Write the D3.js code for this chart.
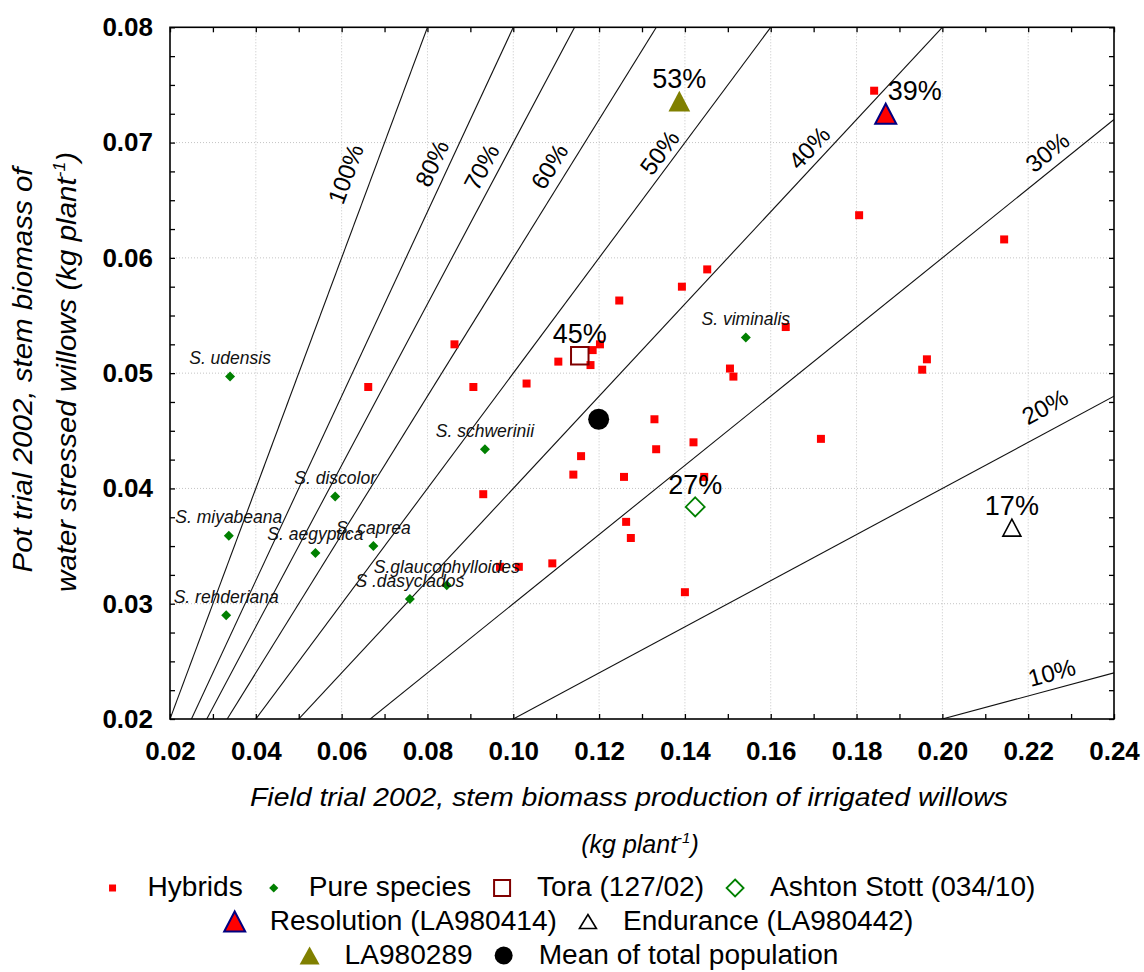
<!DOCTYPE html>
<html>
<head>
<meta charset="utf-8">
<script src="https://cdn.jsdelivr.net/npm/d3@7"></script>
<style>
  body { margin: 0; background: #fff; }
  svg { display: block; font-family: "Liberation Sans", Arial, sans-serif; }
</style>
</head>
<body>
<svg id="chart" width="1144" height="972"></svg>
<script>
// ---- data (kg plant-1) ----
const xDomain = [0.02, 0.24];
const yDomain = [0.02, 0.08];
const xTickLabels = ["0.02","0.04","0.06","0.08","0.10","0.12","0.14","0.16","0.18","0.20","0.22","0.24"];
const yTickLabels = ["0.02","0.03","0.04","0.05","0.06","0.07","0.08"];

// Hybrid clones: field trial (irrigated) vs pot trial (water stressed)
const hybridX = [0.1841,0.1806,0.2144,0.1452,0.1393,0.1247,0.1635,0.0863,0.1202,0.1185,0.1180,0.1105,
                 0.0662,0.0907,0.1031,0.1505,0.1513,0.1964,0.1953,0.1329,0.1420,0.1333,0.1717,0.1158,
                 0.1140,0.1258,0.1445,0.0930,0.1263,0.1274,0.0969,0.1013,0.1091,0.1400];
const hybridY = [0.0745,0.0637,0.0616,0.0590,0.0575,0.0563,0.0540,0.0525,0.0525,0.0520,0.0507,0.0510,
                 0.0488,0.0488,0.0491,0.0504,0.0497,0.0512,0.0503,0.0460,0.0440,0.0434,0.0443,0.0428,
                 0.0412,0.0410,0.0410,0.0395,0.0371,0.0357,0.0332,0.0332,0.0335,0.0310];

// Pure Salix species
const speciesNames = ["S. udensis","S. discolor","S. miyabeana","S. aegyptica","S. caprea","S. schwerinii",
                      "S.glaucophylloides","S .dasyclados","S. rehderiana","S. viminalis"];
const speciesX = [0.0340,0.0585,0.0337,0.0539,0.0674,0.0934,0.0845,0.0759,0.0331,0.1542];
const speciesY = [0.0497,0.0393,0.0359,0.0344,0.0350,0.0434,0.0316,0.0304,0.0290,0.0531];

// Named clones and the population mean
const cloneNames = ["Tora (127/02)","Ashton Stott (034/10)","Resolution (LA980414)","Endurance (LA980442)","LA980289","Mean of total population"];
const cloneX = [0.1155,0.1424,0.1868,0.2162,0.1387,0.1199];
const cloneY = [0.0515,0.0384,0.0725,0.0366,0.0736,0.0460];

// Reference lines: pot biomass as a share of field biomass
const ratioValues = [1.0,0.8,0.7,0.6,0.5,0.4,0.3,0.2,0.1];
const ratioLabelAtX = [0.0665,0.0845,0.0960,0.1119,0.1368,0.1716,0.2269,0.2265,0.2265];

// Legend entries, in reading order
const legendNames = ["Hybrids","Pure species","Tora (127/02)","Ashton Stott (034/10)",
                     "Resolution (LA980414)","Endurance (LA980442)","LA980289","Mean of total population"];
const legendRows = [[0,1,2,3],[4,5],[6,7]];

// ---- layout ----
const plot = { left: 170, right: 1114, top: 27.3, bottom: 719 };
const ratioLabelGap = [17, 8, 8, 9, 6, 7, 8, 15, 8];   // px between line and label baseline
const svg = d3.select("#chart");
const x = d3.scaleLinear().domain(xDomain).range([plot.left, plot.right]);
const y = d3.scaleLinear().domain(yDomain).range([plot.bottom, plot.top]);
const pct = d3.format(".0%");

// marker shapes (centred on the bounding box)
const squarePath = s => `M${-s/2},${-s/2}h${s}v${s}h${-s}Z`;
const diamondPath = r => `M0,${-r}L${r},0L0,${r}L${-r},0Z`;
const trianglePath = (w, h) => `M0,${-h/2}L${w/2},${h/2}L${-w/2},${h/2}Z`;
const circlePath = r => d3.symbol(d3.symbolCircle, Math.PI * r * r)();

const markerStyle = {
  "Hybrids":                 { plot: squarePath(8),          legend: squarePath(7),         fill: "#ff0000", stroke: "none",    sw: 0 },
  "Pure species":            { plot: diamondPath(5),         legend: diamondPath(4.6),      fill: "#008000", stroke: "none",    sw: 0 },
  "Tora (127/02)":           { plot: squarePath(17.5),       legend: squarePath(16),        fill: "none",    stroke: "#800000", sw: 2 },
  "Ashton Stott (034/10)":   { plot: diamondPath(9.5),       legend: diamondPath(8.5),      fill: "none",    stroke: "#008000", sw: 1.8 },
  "Resolution (LA980414)":   { plot: trianglePath(21, 20),   legend: trianglePath(21, 20),  fill: "#ff0000", stroke: "#000080", sw: 2 },
  "Endurance (LA980442)":    { plot: trianglePath(18, 17),   legend: trianglePath(17, 14),  fill: "none",    stroke: "#000000", sw: 1.6 },
  "LA980289":                { plot: trianglePath(21.7, 20.7), legend: trianglePath(20, 18), fill: "#808000", stroke: "none",    sw: 0 },
  "Mean of total population":{ plot: circlePath(10.5),       legend: circlePath(9),         fill: "#000000", stroke: "none",    sw: 0 }
};

// ---- grid ----
const xMajor = xTickLabels.map(Number);
const yMajor = yTickLabels.map(Number);
const grid = svg.append("g").attr("stroke", "#c4c4c4").attr("stroke-width", 1).attr("stroke-dasharray", "1,2");
grid.selectAll("line.vx").data(xMajor.slice(1, -1)).join("line")
  .attr("x1", d => x(d)).attr("x2", d => x(d)).attr("y1", plot.top).attr("y2", plot.bottom);
grid.selectAll("line.hy").data(yMajor.slice(1, -1)).join("line")
  .attr("y1", d => y(d)).attr("y2", d => y(d)).attr("x1", plot.left).attr("x2", plot.right);

// ---- ratio lines ----
svg.append("clipPath").attr("id", "plotClip").append("rect")
  .attr("x", plot.left).attr("y", plot.top)
  .attr("width", plot.right - plot.left).attr("height", plot.bottom - plot.top);
const ratioG = svg.append("g").attr("clip-path", "url(#plotClip)");
ratioG.selectAll("line").data(ratioValues).join("line")
  .attr("x1", x(0)).attr("y1", y(0))
  .attr("x2", x(xDomain[1])).attr("y2", d => y(d * xDomain[1]))
  .attr("stroke", "#111").attr("stroke-width", 1.1);

// labels sit just above-left of each line, turned to follow it
const ratioLabelG = svg.append("g").attr("font-size", 24).attr("fill", "#000");
ratioValues.forEach((p, i) => {
  const xv = ratioLabelAtX[i];
  const px = x(xv), py = y(p * xv);
  const ang = Math.atan2(y(p * 0.2) - y(0), x(0.2) - x(0)) * 180 / Math.PI;
  ratioLabelG.append("text")
    .attr("transform", `translate(${px},${py}) rotate(${ang})`)
    .attr("y", -ratioLabelGap[i])
    .attr("text-anchor", "middle")
    .text(pct(p));
});

// ---- hybrids ----
const hs = markerStyle["Hybrids"];
svg.append("g").selectAll("path").data(hybridX).join("path")
  .attr("d", hs.plot).attr("fill", hs.fill)
  .attr("transform", (d, i) => `translate(${x(d)},${y(hybridY[i])})`);

// ---- pure species ----
const ss = markerStyle["Pure species"];
const spG = svg.append("g");
spG.selectAll("path").data(speciesX).join("path")
  .attr("d", ss.plot).attr("fill", ss.fill)
  .attr("transform", (d, i) => `translate(${x(d)},${y(speciesY[i])})`);
spG.selectAll("text").data(speciesNames).join("text")
  .attr("x", (d, i) => x(speciesX[i]))
  .attr("y", (d, i) => y(speciesY[i]) - 12.5)
  .attr("text-anchor", "middle")
  .attr("font-size", 17.5).attr("font-style", "italic").attr("fill", "#111")
  .text(d => d);

// ---- named clones with their pot/field ratio ----
const cloneG = svg.append("g");
cloneNames.forEach((name, i) => {
  const st = markerStyle[name];
  const cx = x(cloneX[i]), cy = y(cloneY[i]);
  cloneG.append("path").attr("d", st.plot)
    .attr("fill", st.fill).attr("stroke", st.stroke).attr("stroke-width", st.sw)
    .attr("transform", `translate(${cx},${cy})`);
  if (name === "Mean of total population") return;
  const side = name.startsWith("Resolution");
  cloneG.append("text")
    .attr("x", side ? cx + 2 : cx)
    .attr("y", side ? cy - 14 : cy - 13)
    .attr("text-anchor", side ? "start" : "middle")
    .attr("font-size", 27).attr("fill", "#000")
    .text(pct(Math.round(cloneY[i] / cloneX[i] * 100) / 100));
});

// ---- frame and axes ----
svg.append("rect")
  .attr("x", plot.left).attr("y", plot.top)
  .attr("width", plot.right - plot.left).attr("height", plot.bottom - plot.top)
  .attr("fill", "none").attr("stroke", "#000").attr("stroke-width", 1.6);

const xMinor = d3.range(0, 23).map(i => +(0.02 + i * 0.01).toFixed(2));
const yMinor = d3.range(0, 25).map(i => +(0.02 + i * 0.0025).toFixed(4));
const xLabelOf = d => { const k = xMajor.findIndex(v => Math.abs(v - d) < 1e-6); return k < 0 ? "" : xTickLabels[k]; };
const yLabelOf = d => { const k = yMajor.findIndex(v => Math.abs(v - d) < 1e-6); return k < 0 ? "" : yTickLabels[k]; };

function styleAxis(g) {
  g.select(".domain").remove();
  g.selectAll(".tick line").attr("stroke", "#000").attr("stroke-width", 1.3);
  g.selectAll("text").attr("font-size", 26).attr("font-weight", "bold")
    .attr("fill", "#000").attr("font-family", "Liberation Sans, Arial, sans-serif");
}
svg.append("g").attr("transform", `translate(0,${plot.bottom})`)
  .call(d3.axisBottom(x).tickValues(xMinor).tickSize(-5).tickSizeOuter(0).tickPadding(23).tickFormat(xLabelOf))
  .call(styleAxis);
svg.append("g").attr("transform", `translate(${plot.left},0)`)
  .call(d3.axisLeft(y).tickValues(yMinor).tickSize(-5).tickSizeOuter(0).tickPadding(17).tickFormat(yLabelOf))
  .call(styleAxis);
svg.append("g").attr("transform", `translate(0,${plot.top})`)
  .call(d3.axisTop(x).tickValues(xMinor).tickSize(-5).tickSizeOuter(0).tickFormat(""))
  .call(styleAxis);
svg.append("g").attr("transform", `translate(${plot.right},0)`)
  .call(d3.axisRight(y).tickValues(yMinor).tickSize(-5).tickSizeOuter(0).tickFormat(""))
  .call(styleAxis);

// ---- axis titles ----
const titleFont = { "font-size": 25, "font-style": "italic", "fill": "#000" };
function applyAttrs(sel, a) { Object.entries(a).forEach(([k, v]) => sel.attr(k, v)); return sel; }

applyAttrs(svg.append("text"), titleFont)
  .attr("x", 629).attr("y", 806).attr("text-anchor", "middle")
  .attr("textLength", 758).attr("lengthAdjust", "spacingAndGlyphs")
  .text("Field trial 2002, stem biomass production of irrigated willows");
const xt2 = applyAttrs(svg.append("text"), titleFont)
  .attr("x", 640).attr("y", 853).attr("text-anchor", "middle");
xt2.append("tspan").text("(kg plant");
xt2.append("tspan").attr("dy", -10).attr("font-size", 15).text("-1");
xt2.append("tspan").attr("dy", 10).text(")");

applyAttrs(svg.append("text"), titleFont)
  .attr("font-size", 27)
  .attr("transform", "translate(32,370) rotate(-90)").attr("text-anchor", "middle")
  .attr("textLength", 405).attr("lengthAdjust", "spacingAndGlyphs")
  .text("Pot trial 2002, stem biomass of");
const yt2 = applyAttrs(svg.append("text"), titleFont)
  .attr("font-size", 27)
  .attr("transform", "translate(76,372) rotate(-90)").attr("text-anchor", "middle")
  .attr("textLength", 440).attr("lengthAdjust", "spacingAndGlyphs");
yt2.append("tspan").text("water stressed willows (kg plant");
yt2.append("tspan").attr("dy", -11).attr("font-size", 16).text("-1");
yt2.append("tspan").attr("dy", 11).text(")");

// ---- legend ----
const legendRowY = [888, 921.5, 955.5];
const legendCenterX = 574;
const legendG = svg.append("g");
legendRows.forEach((row, r) => {
  const rowG = legendG.append("g");
  let cursor = 0;
  row.forEach(idx => {
    const name = legendNames[idx];
    const st = markerStyle[name];
    rowG.append("path").attr("d", st.legend)
      .attr("fill", st.fill).attr("stroke", st.stroke).attr("stroke-width", st.sw)
      .attr("transform", `translate(${cursor},${legendRowY[r]})`);
    const t = rowG.append("text")
      .attr("x", cursor + 35).attr("y", legendRowY[r] + 8)
      .attr("font-size", 27).attr("fill", "#000").text(name);
    const w = t.node().getComputedTextLength() * 1.04;
    t.attr("textLength", w).attr("lengthAdjust", "spacingAndGlyphs");
    cursor += 35 + w + 31;
  });
  const rowWidth = cursor - 31;
  rowG.attr("transform", `translate(${legendCenterX - rowWidth / 2},0)`);
});
</script>
</body>
</html>
